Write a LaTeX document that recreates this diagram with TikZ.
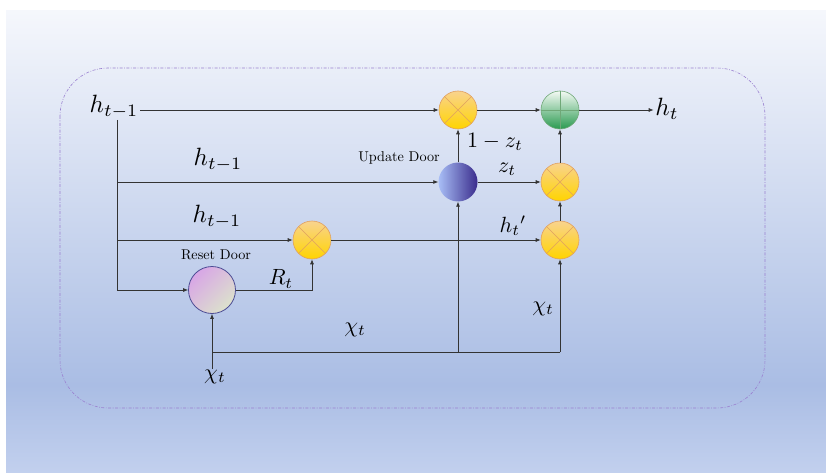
\documentclass[tikz,border=0pt]{standalone}
\usetikzlibrary{arrows.meta,calc}
\definecolor{bgtop}{HTML}{F5F7FC}
\definecolor{bgmid}{HTML}{AABDE4}
\definecolor{bgbot}{HTML}{C2D0EE}
\definecolor{frame}{HTML}{9A80D0}
\definecolor{linec}{HTML}{333333}
\definecolor{orbord}{HTML}{E0A060}
\definecolor{ortop}{HTML}{F9D38E}
\definecolor{orbot}{HTML}{FFD400}
\definecolor{grtop}{HTML}{F4FAF4}
\definecolor{grbot}{HTML}{2A9A50}
\definecolor{grbord}{HTML}{70A878}
\definecolor{bluel}{HTML}{A8BEF6}
\definecolor{bluer}{HTML}{3A2C8C}
\definecolor{pinkc}{HTML}{D8A6E6}
\definecolor{grayc}{HTML}{DCE2CC}
\begin{document}
\begin{tikzpicture}[x=1pt,y=-1pt,
  conn/.style={draw=linec, line width=0.7pt},
  arr/.style={conn, -{Latex[length=5pt,width=4pt]}},
  mult/.style={circle, draw=orbord, line width=0.6pt, minimum size=38pt, inner sep=0pt,
     top color=ortop, bottom color=orbot,
     path picture={\draw[orbord, line width=0.6pt]
        (path picture bounding box.north west) -- (path picture bounding box.south east)
        (path picture bounding box.north east) -- (path picture bounding box.south west);}},
  addn/.style={circle, draw=grbord, line width=0.6pt, minimum size=38pt, inner sep=0pt,
     top color=grtop, bottom color=grbot,
     path picture={\draw[grbord, line width=0.6pt]
        (path picture bounding box.north) -- (path picture bounding box.south)
        (path picture bounding box.east) -- (path picture bounding box.west);}},
  upd/.style={circle, minimum size=39pt, inner sep=0pt, left color=bluel, right color=bluer},
  rst/.style={circle, draw=black!60!blue!70, line width=0.8pt, minimum size=47pt, inner sep=0pt,
     top color=pinkc, bottom color=grayc, shading angle=45},
  bigm/.style={scale=2.5, inner sep=0.5pt},
  midm/.style={scale=2.2, inner sep=0.5pt},
  txt/.style={scale=1.42, inner sep=0.5pt}
]
\useasboundingbox (0,0) rectangle (826,473);
\fill[white] (0,0) rectangle (826,473);
\shade[top color=bgtop, bottom color=bgmid] (6,11) rectangle (826,385);
\shade[top color=bgmid, bottom color=bgbot] (6,385) rectangle (826,473);
\draw[frame, line width=0.6pt, dash pattern=on 3pt off 1.5pt on 0.8pt off 1.5pt, rounded corners=48pt]
  (60,68) rectangle (765,408);

% nodes
\node[bigm] (h1) at (114,107) {$h_{t-1}$};
\node[mult] (m1) at (458,110) {};
\node[addn] (pl) at (560,110) {};
\node[bigm] (ht) at (667,109) {$h_t$};
\node[upd] (ud) at (458,182) {};
\node[mult] (m2) at (560,182) {};
\node[mult] (mr) at (312,240) {};
\node[mult] (m3) at (560,240) {};
\node[rst] (rd) at (212,290) {};
\node[midm] (xin) at (215,377) {$\chi_t$};

\coordinate (j1) at (117,182);
\coordinate (j2) at (117,240);
\coordinate (j3) at (117,290);
\coordinate (tt) at (117,120);
\coordinate (cb) at (560,352);

% labels
\node[bigm] (l2) at (218,160) {$h_{t-1}$};
\node[bigm] (l3) at (217,217) {$h_{t-1}$};
\node[txt] (lud) at (399,158) {Update Door};
\node[txt] (lrd) at (216,255) {Reset Door};
\node[midm] (l1z) at (495,142) {$1-z_t$};
\node[midm] (lz) at (507,169) {$z_t$};
\node[midm] (lR) at (281,279) {$R_t$};
\node[midm] (lhp) at (513,226) {$h_t{}'$};
\node[midm] (lx1) at (355,330) {$\chi_t$};
\node[midm] (lx2) at (543,309) {$\chi_t$};

% connectors
\draw[arr] (h1.east |- m1.west) -- (m1.west);
\draw[arr] (m1.east) -- (pl.west);
\draw[arr] (pl.east) -- (ht.west |- pl.east);
\draw[conn] (tt) -- (j3);
\draw[arr] (j1) -- (ud.west);
\draw[arr] (j2) -- (mr.west);
\draw[arr] (j3) -- (rd.west);
\draw[arr] (rd.east) -| (mr.south);
\draw[arr] (mr.east) -- (m3.west);
\draw[arr] (ud.east) -- (m2.west);
\draw[arr] (ud.north) -- (m1.south);
\draw[arr] (m3.north) -- (m2.south);
\draw[arr] (m2.north) -- (pl.south);
\draw[arr] (rd.south |- xin.north) -- (rd.south);
\draw[conn] (rd.south |- cb) -- (cb);
\draw[arr] (cb) -- (m3.south);
\draw[arr] (ud.south |- cb) -- (ud.south);
\end{tikzpicture}
\end{document}
